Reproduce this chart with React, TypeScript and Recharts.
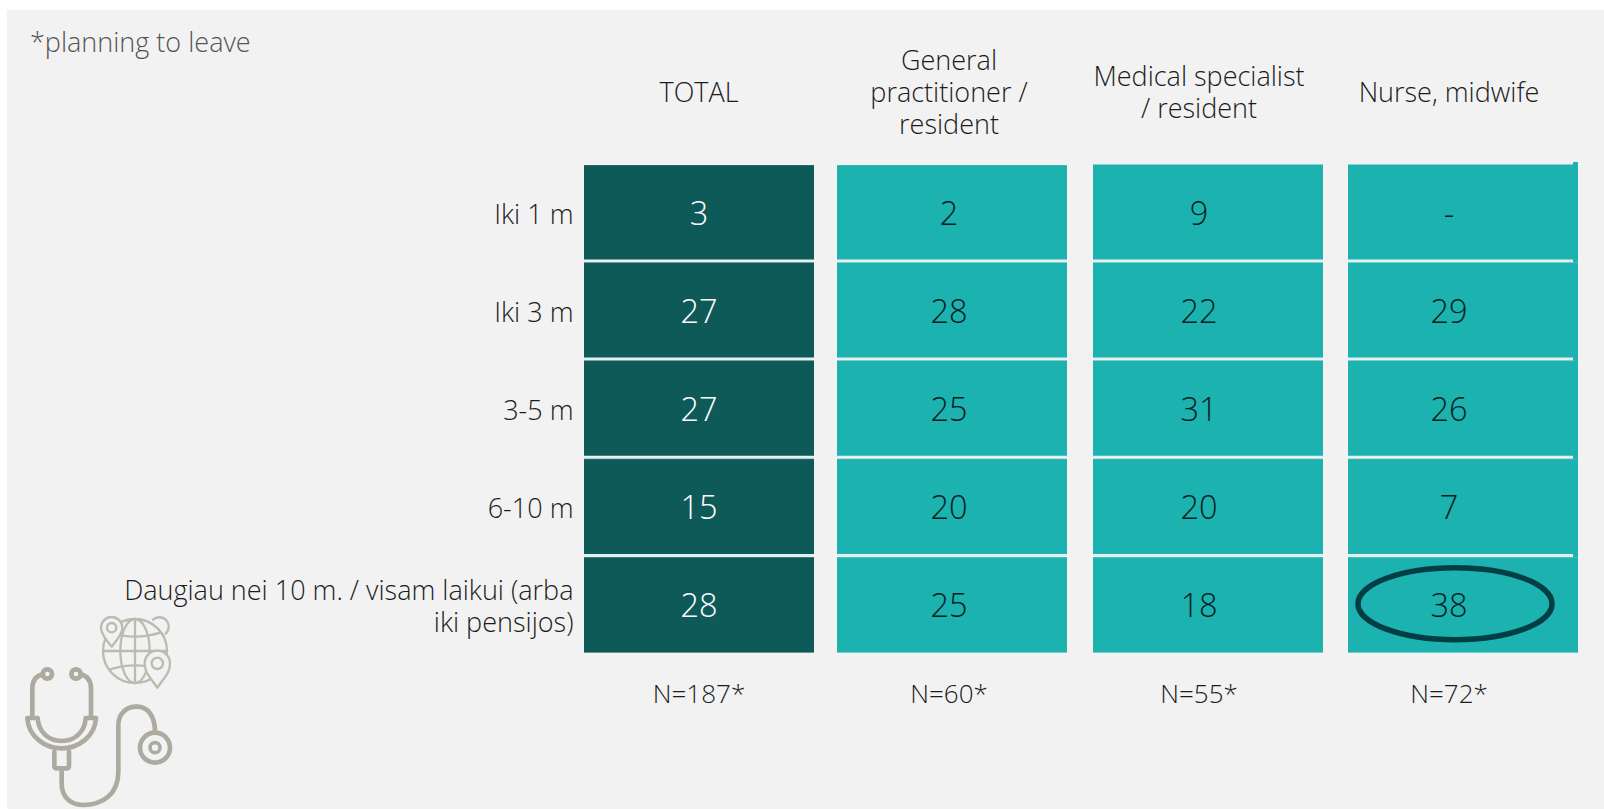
import React from 'react';
import { ScatterChart, Scatter, XAxis, YAxis } from 'recharts';

const columns = ['TOTAL', 'General practitioner / resident', 'Medical specialist / resident', 'Nurse, midwife'];
const headerLines = [['TOTAL'], ['General', 'practitioner /', 'resident'], ['Medical specialist', '/ resident'], ['Nurse, midwife']];
const sampleSizes = ['N=187*', 'N=60*', 'N=55*', 'N=72*'];
const rows = ['Iki 1 m', 'Iki 3 m', '3-5 m', '6-10 m', 'Daugiau nei 10 m. / visam laikui (arba iki pensijos)'];
const rowLines = [['Iki 1 m'], ['Iki 3 m'], ['3-5 m'], ['6-10 m'], ['Daugiau nei 10 m. / visam laikui (arba', 'iki pensijos)']];
const totalValues = ['3', '27', '27', '15', '28'];
const gpValues = ['2', '28', '25', '20', '25'];
const specialistValues = ['9', '22', '31', '20', '18'];
const nurseValues = ['-', '29', '26', '7', '38'];
const seriesValues = [totalValues, gpValues, specialistValues, nurseValues];
const highlighted = { col: 3, row: 4 };

const W = 1604, H = 810;
const FONT = '"Open Sans", sans-serif';
const DARK = '#0E5A58', TEAL = '#1BB2B0', RING = '#023E44', BG = '#F2F2F2', INK = '#1c1c1c';
const CELL_W = 230;
const CELL_H = 98.2;
const nudge = [0, 3, 9, 14];

const cells = columns.flatMap((col, c) =>
  rows.map((row, r) => ({ col, row, c, r, value: seriesValues[c][r] }))
);
const bottomCells = columns.map((col, c) => ({ n: sampleSizes[c], row: rows[0] }));

const Cell = (props: any) => {
  const { cx, cy, payload } = props;
  const { c, r, value } = payload;
  const x = cx - CELL_W / 2 + nudge[c];
  const trimTop = r === 0 && c < 2 ? 0.6 : 0;
  const trimBottom = r === rows.length - 1 ? 2.9 : 0;
  const top = cy - CELL_H / 2 + trimTop;
  const height = CELL_H - trimTop - trimBottom;
  const fill = c === 0 ? DARK : TEAL;
  const lineEnd = c === 3 ? x + CELL_W - 5 : x + CELL_W;
  const lineY = cy + CELL_H / 2 - 1.8;
  const isHi = c === highlighted.col && r === highlighted.row;
  return (
    <g>
      <rect x={x} y={top} width={CELL_W} height={height} fill={fill} />
      {c === 3 && r === 0 && <rect x={x + CELL_W - 5} y={top - 2.5} width={5} height={4} fill={fill} />}
      {r < rows.length - 1 && <line x1={x} x2={lineEnd} y1={lineY} y2={lineY} stroke="#E6F0F0" strokeWidth={3} />}
      <text x={cx} y={cy + 11} textAnchor="middle" fontFamily={FONT} fontWeight={300} fontSize={32.5} fill={c === 0 ? '#fff' : '#0a1f20'}>{value}</text>
      {isHi && <ellipse cx={cx + 6} cy={cy - 2.7} rx={97} ry={36} fill="none" stroke={RING} strokeWidth={5.5} />}
    </g>
  );
};

const HeaderTick = (props: any) => {
  const { x, payload } = props;
  const idx = columns.indexOf(payload.value);
  const lines = headerLines[idx] || [];
  const startY = 93 - ((lines.length - 1) * 32) / 2 + 9;
  return (
    <text textAnchor="middle" fontFamily={FONT} fontWeight={300} fontSize={27} fill={INK}>
      {lines.map((l, i) => <tspan key={i} x={x} y={startY + i * 32}>{l}</tspan>)}
    </text>
  );
};

const NTick = (props: any) => {
  const { x, payload } = props;
  return <text x={x} y={703} textAnchor="middle" fontFamily={FONT} fontWeight={300} fontSize={26} fill={INK}>{payload.value}</text>;
};

const RowTick = (props: any) => {
  const { y, payload } = props;
  const lines = rowLines[rows.indexOf(payload.value)] || [];
  const startY = y + 10 - ((lines.length - 1) * 32) / 2;
  return (
    <text textAnchor="end" fontFamily={FONT} fontWeight={300} fontSize={27} fill={INK}>
      {lines.map((l, i) => <tspan key={i} x={573.5} y={startY + i * 32}>{l}</tspan>)}
    </text>
  );
};

const Icon = () => (
  <svg viewBox="0 0 510 615" width={170} height={205} style={{ position: 'absolute', left: 15, top: 605 }} fill="none" stroke="#ADABA0" strokeLinecap="round" strokeLinejoin="round">
    <g strokeWidth={7} stroke="#BDBBB1">
      <circle cx={360} cy={138} r={96} />
      <ellipse cx={360} cy={138} rx={44} ry={96} />
      <path d="M264 138 H456" />
      <path d="M282 82 Q360 108 438 82" />
      <path d="M282 194 Q360 168 438 194" />
      <path d="M360 42 V234" />
      <path d="M290 125 C270 100 258 85 258 68 A32 32 0 1 1 322 68 C322 85 310 100 290 125 Z" fill={BG} />
      <circle cx={290} cy={68} r={14} />
      <path d="M414 44 A26 26 0 1 1 452 86" />
      <path d="M427 248 C405 215 389 205 389 175 A38 38 0 1 1 465 175 C465 205 449 215 427 248 Z" fill={BG} />
      <circle cx={427} cy={175} r={17} />
    </g>
    <g strokeWidth={14}>
      <circle cx={97} cy={207} r={14} />
      <circle cx={183} cy={207} r={14} />
      <path d="M84 208 Q52 215 52 250 V335" />
      <path d="M196 208 Q228 215 228 250 V335" />
      <path d="M37 339 C40 395 90 430 140 430 C190 430 240 395 243 339 H212 C210 380 180 408 140 408 C100 408 70 380 68 339 Z" />
      <path d="M118 440 V482 Q118 490 126 490 H154 Q162 490 162 482 V440" />
      <path d="M140 490 V535 C140 580 170 600 205 600 C260 600 310 570 310 500 V360 C310 325 335 305 365 305 C400 305 420 335 420 380" />
      <circle cx={420} cy={428} r={45} />
      <circle cx={420} cy={428} r={15} strokeWidth={11} />
    </g>
  </svg>
);

export default function App() {
  return (
    <div style={{ position: 'absolute', left: 0, top: 0, width: W, height: H, background: '#fff', overflow: 'hidden' }}>
      <div style={{ position: 'absolute', left: 7, top: 10, right: 0, bottom: 1, background: BG }} />
      <div style={{ position: 'absolute', left: 30, top: 23, fontFamily: FONT, fontWeight: 300, fontSize: 27, color: '#555' }}>*planning to leave</div>
      <div style={{ position: 'absolute', left: 0, top: 0 }}>
        <ScatterChart width={W} height={H} margin={{ top: 0, right: 30, bottom: 0, left: 0 }}>
          <XAxis xAxisId="top" orientation="top" type="category" dataKey="col" scale="band" ticks={columns} allowDuplicatedCategory={false} height={164.5} axisLine={false} tickLine={false} tick={<HeaderTick />} interval={0} />
          <XAxis xAxisId="bottom" orientation="bottom" type="category" dataKey="n" scale="band" ticks={sampleSizes} allowDuplicatedCategory={false} height={154.5} axisLine={false} tickLine={false} tick={<NTick />} interval={0} />
          <YAxis yAxisId="rows" type="category" dataKey="row" scale="band" reversed ticks={rows} allowDuplicatedCategory={false} width={574} axisLine={false} tickLine={false} tick={<RowTick />} interval={0} />
          <Scatter xAxisId="bottom" yAxisId="rows" data={bottomCells} isAnimationActive={false} shape={() => <g />} />
          <Scatter xAxisId="top" yAxisId="rows" data={cells} isAnimationActive={false} shape={<Cell />} />
        </ScatterChart>
      </div>
      <Icon />
    </div>
  );
}
